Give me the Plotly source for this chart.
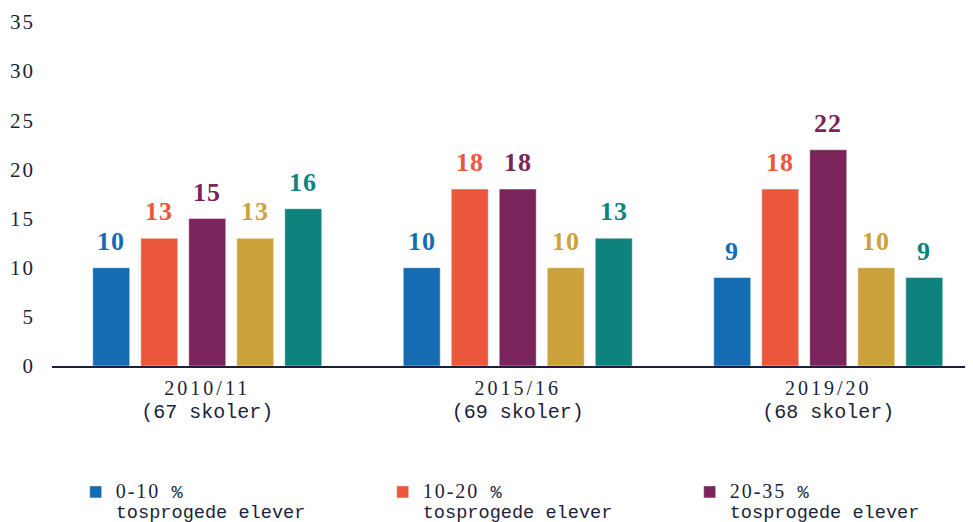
import plotly.graph_objects as go

SERIF = "Liberation Serif, Times New Roman, serif"
MONO = "Liberation Mono, Courier New, monospace"

def mono(s, size=None):
    fs = f";font-size:{size}px" if size else ""
    return f"<span style='font-family:{MONO}{fs}'>{s}</span>"

def spaced(s, px=2, size=None):
    fs = f";font-size:{size}px" if size else ""
    return f"<span style='letter-spacing:{px}px{fs}'>{s}</span>"

periods = ["2010/11", "2015/16", "2019/20"]
schools = [67, 69, 68]
series_names = ["0-10 %", "10-20 %", "20-35 %", "35-50 %", "50-100 %"]
series_values = [
    [10, 10, 9],
    [13, 18, 18],
    [15, 18, 22],
    [13, 10, 10],
    [16, 13, 9],
]
colors = ["#146DB3", "#EB573D", "#7B245B", "#CCA23A", "#0E827D"]
y_ticks = [0, 5, 10, 15, 20, 25, 30, 35]

cat_labels = [spaced(p, 3, 20) + "<br>" + mono(f"({n} skoler)", 20) for p, n in zip(periods, schools)]

fig = go.Figure()
n_series = len(series_names)
for i, (name, vals, col) in enumerate(zip(series_names, series_values, colors)):
    num, pct = name.split(" ")
    legend_name = (spaced(num, 2, 20) + mono(" " + pct, 18.6) + "<br>"
                   + mono("tosprogede elever", 18.6))
    fig.add_trace(go.Bar(
        x=cat_labels, y=vals, name=legend_name,
        marker=dict(color=col, line=dict(color="rgba(255,255,255,0.45)", width=1)),
        showlegend=i < 3,
    ))

# data labels
pitch = 48
for i, (vals, col) in enumerate(zip(series_values, colors)):
    for c, v in zip(cat_labels, vals):
        fig.add_annotation(
            x=c, y=v, text=spaced(str(v), 1), showarrow=False,
            xshift=(i - (n_series - 1) / 2) * pitch, yshift=10,
            yanchor="bottom",
            font=dict(family=SERIF, size=26, color=col, weight="bold"),
        )

fig.update_layout(
    width=973, height=522,
    margin=dict(l=44, r=0, t=14, b=164, autoexpand=False),
    paper_bgcolor="white", plot_bgcolor="white",
    barmode="group", bargap=0.227, bargroupgap=0.23,
    font=dict(family=SERIF, color="#1b1f3b"),
    xaxis=dict(
        range=[-0.5, 2.492], showline=True, linecolor="#1b1f3b", linewidth=2,
        ticks="", tickfont=dict(family=SERIF, size=17.7, color="#1b1f3b"),
        showgrid=False, ticklabelstandoff=6,
    ),
    yaxis=dict(
        range=[0, 35], tickvals=y_ticks, ticktext=[spaced(str(t), 2) for t in y_ticks],
        showgrid=False, zeroline=False,
        tickfont=dict(family=SERIF, size=21, color="#1b1f3b"), ticks="",
        ticklabelstandoff=16,
    ),
    legend=dict(
        orientation="h", x=0.0255, y=-0.318, xanchor="left", yanchor="top",
        entrywidth=262, entrywidthmode="pixels", valign="top",
        font=dict(family=SERIF, size=15.4, color="#1b1f3b"),
        itemwidth=30, traceorder="normal",
    ),
)

fig.write_html("out.html")
